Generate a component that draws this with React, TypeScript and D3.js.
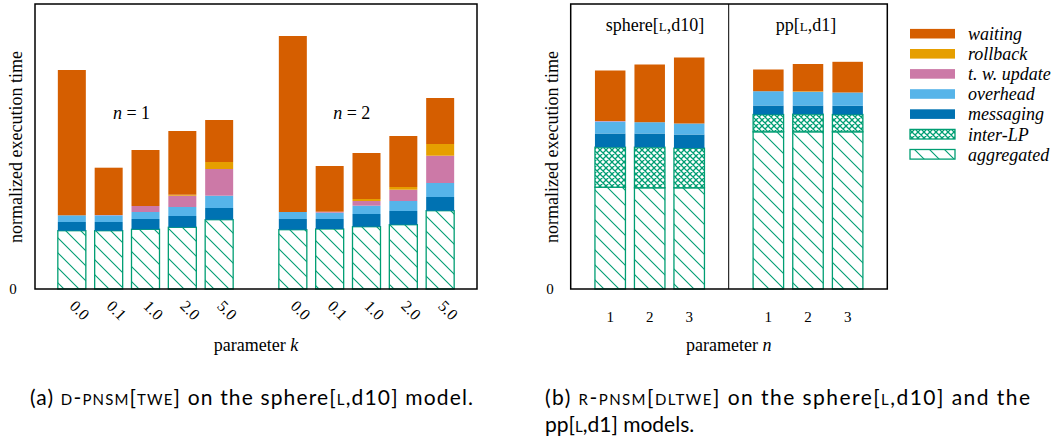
import React from 'react';
import { scaleLinear, stack } from 'd3';

const W = 1064;
const H = 444;

// stacking order, bottom to top
const seriesKeys = ['aggregated', 'inter-LP', 'messaging', 'overhead', 't. w. update', 'rollback', 'waiting'];
const seriesColors = ['url(#hatch)', 'url(#cross)', '#0072B2', '#56B4E9', '#CC79A7', '#E69F00', '#D55E00'];
// legend lists top to bottom
const legendKeys = ['waiting', 'rollback', 't. w. update', 'overhead', 'messaging', 'inter-LP', 'aggregated'];

// left panel: parameter k, two groups n = 1 and n = 2
const kLabels = ['0.0', '0.1', '1.0', '2.0', '5.0', '0.0', '0.1', '1.0', '2.0', '5.0'];
const kSlots = [1, 2, 3, 4, 5, 7, 8, 9, 10, 11];
const leftAggregated = [0.583, 0.583, 0.597, 0.617, 0.693, 0.593, 0.6, 0.623, 0.643, 0.783];
const leftInterLP = [0, 0, 0, 0, 0, 0, 0, 0, 0, 0];
const leftMessaging = [0.087, 0.087, 0.103, 0.113, 0.117, 0.107, 0.1, 0.127, 0.137, 0.137];
const leftOverhead = [0.067, 0.067, 0.07, 0.09, 0.123, 0.07, 0.063, 0.083, 0.1, 0.14];
const leftTwUpdate = [0, 0.003, 0.06, 0.113, 0.267, 0, 0.01, 0.047, 0.113, 0.273];
const leftRollback = [0, 0, 0, 0.01, 0.07, 0, 0, 0.02, 0.027, 0.117];
const leftWaiting = [1.453, 0.473, 0.56, 0.637, 0.42, 1.76, 0.457, 0.46, 0.51, 0.46];
const groupNotes = [{ text: '1', at: 2.62 }, { text: '2', at: 8.6 }];

// right panel: parameter n, two models
const nLabels = ['1', '2', '3', '1', '2', '3'];
const rightAggregated = [1.018, 1.012, 1.012, 1.572, 1.572, 1.572];
const rightInterLP = [0.4, 0.406, 0.396, 0.173, 0.176, 0.173];
const rightMessaging = [0.137, 0.137, 0.137, 0.09, 0.087, 0.087];
const rightOverhead = [0.12, 0.113, 0.11, 0.143, 0.137, 0.133];
const rightTwUpdate = [0.005, 0, 0, 0, 0, 0];
const rightRollback = [0, 0, 0, 0, 0.005, 0];
const rightWaiting = [0.505, 0.577, 0.66, 0.217, 0.273, 0.307];

const serif = 'Liberation Serif, serif';
const sans = 'Lato, sans-serif';

function rows(cols: number[][]) {
  return cols[0].map((_, i) => {
    const r: Record<string, number> = {};
    seriesKeys.forEach((k, j) => (r[k] = cols[j][i]));
    return r;
  });
}

const leftRows = rows([leftAggregated, leftInterLP, leftMessaging, leftOverhead, leftTwUpdate, leftRollback, leftWaiting]);
const rightRows = rows([rightAggregated, rightInterLP, rightMessaging, rightOverhead, rightTwUpdate, rightRollback, rightWaiting]);
const stacker = stack<Record<string, number>>().keys(seriesKeys);
const leftStack = stacker(leftRows);
const rightStack = stacker(rightRows);

const y = scaleLinear().domain([0, 2.85]).range([289, 4]);
const xLeft = scaleLinear().domain([0, 12]).range([35, 477]);
const xSphere = scaleLinear().domain([0, 4]).range([570.7, 728.7]);
const xPp = scaleLinear().domain([0, 4]).range([728.7, 887.3]);
const rightX = (i: number) => (i < 3 ? xSphere(i + 1) : xPp(i - 2));

const green = '#009E73';

function Bars({ data, xc, bw }: { data: any[]; xc: (i: number) => number; bw: number }) {
  return (
    <g>
      {data.map((s, j) =>
        s.map((d: any, i: number) => {
          const h = y(d[0]) - y(d[1]);
          if (h <= 0) return null;
          const patterned = j < 2;
          return (
            <rect
              key={`${j}-${i}`}
              x={xc(i) - bw / 2}
              y={y(d[1])}
              width={bw}
              height={h}
              fill={seriesColors[j]}
              stroke={patterned ? green : 'none'}
              strokeWidth={patterned ? 1.3 : 0}
            />
          );
        })
      )}
    </g>
  );
}

function Caps({ children }: { children: string }) {
  return <tspan style={{ fontVariant: 'small-caps' }}>{children}</tspan>;
}

export default function App() {
  return (
    <svg width={W} height={H} style={{ position: 'absolute', left: 0, top: 0, background: '#fff' }}>
      <defs>
        <pattern id="hatch" patternUnits="userSpaceOnUse" width={15} height={15}>
          <rect width={15} height={15} fill="#fff" />
          <path d="M-1,-1 L16,16 M-8,7 L1,16 M7,-8 L16,1" stroke={green} strokeWidth={1.1} />
        </pattern>
        <pattern id="cross" patternUnits="userSpaceOnUse" width={6} height={6}>
          <rect width={6} height={6} fill="#fff" />
          <path d="M0,0 L6,6 M6,0 L0,6 M-1,5 L1,7 M5,-1 L7,1 M-1,1 L1,-1 M5,7 L7,5" stroke={green} strokeWidth={1.3} />
        </pattern>
      </defs>

      {/* left panel */}
      <Bars data={leftStack} xc={(i) => xLeft(kSlots[i])} bw={28} />
      <rect x={35} y={4} width={442} height={285} fill="none" stroke="#000" strokeWidth={1.5} />
      <text x={13} y={y(0)} dy="0.35em" textAnchor="middle" fontFamily={serif} fontSize={15}>0</text>
      <text transform={`translate(16,147) rotate(-90)`} textAnchor="middle" dy="0.35em" fontFamily={serif} fontSize={18}>
        normalized execution time
      </text>
      {groupNotes.map((g) => (
        <text key={g.text} x={xLeft(g.at)} y={113} dy="0.35em" textAnchor="middle" fontFamily={serif} fontSize={18}>
          <tspan fontStyle="italic">n</tspan> = {g.text}
        </text>
      ))}
      {kLabels.map((l, i) => (
        <text
          key={i}
          transform={`translate(${xLeft(kSlots[i]) - 3},307) rotate(45)`}
          fontFamily={serif}
          fontSize={16}
        >
          {l}
        </text>
      ))}
      <text x={256} y={351} textAnchor="middle" fontFamily={serif} fontSize={18}>
        parameter <tspan fontStyle="italic">k</tspan>
      </text>

      {/* right panel */}
      <Bars data={rightStack} xc={rightX} bw={30.5} />
      <rect x={570.7} y={4} width={316.6} height={285} fill="none" stroke="#000" strokeWidth={1.5} />
      <line x1={728.7} x2={728.7} y1={4} y2={289} stroke="#000" strokeWidth={1} />
      <text x={550} y={y(0)} dy="0.35em" textAnchor="middle" fontFamily={serif} fontSize={15}>0</text>
      <text transform={`translate(552,147) rotate(-90)`} textAnchor="middle" dy="0.35em" fontFamily={serif} fontSize={18}>
        normalized execution time
      </text>
      <text x={655} y={25} dy="0.35em" textAnchor="middle" fontFamily={serif} fontSize={18}>
        sphere[<Caps>l</Caps>,d10]
      </text>
      <text x={806} y={25} dy="0.35em" textAnchor="middle" fontFamily={serif} fontSize={18}>
        pp[<Caps>l</Caps>,d1]
      </text>
      {nLabels.map((l, i) => (
        <text key={i} x={rightX(i)} y={317} dy="0.35em" textAnchor="middle" fontFamily={serif} fontSize={15}>
          {l}
        </text>
      ))}
      <text x={728.7} y={351} textAnchor="middle" fontFamily={serif} fontSize={18}>
        parameter <tspan fontStyle="italic">n</tspan>
      </text>

      {/* legend */}
      {legendKeys.map((k, i) => {
        const j = seriesKeys.indexOf(k);
        const cy = 33.7 + i * 20.1;
        const patterned = j < 2;
        return (
          <g key={k}>
            <rect
              x={910}
              y={cy - 4.8}
              width={45}
              height={9.6}
              fill={seriesColors[j]}
              stroke={patterned ? green : 'none'}
              strokeWidth={patterned ? 1.3 : 0}
            />
            <text x={968} y={cy} dy="0.35em" fontFamily={serif} fontStyle="italic" fontSize={18}>
              {k}
            </text>
          </g>
        );
      })}

      {/* captions */}
      <text x={30} y={398} dy="0.35em" fontFamily={sans} fontSize={21} textLength={443} lengthAdjust="spacing">
        (a) <Caps>d-pnsm</Caps>[<Caps>twe</Caps>] on the sphere[<Caps>l</Caps>,d10] model.
      </text>
      <text x={545} y={398} dy="0.35em" fontFamily={sans} fontSize={21} textLength={485} lengthAdjust="spacing">
        (b) <Caps>r-pnsm</Caps>[<Caps>dltwe</Caps>] on the sphere[<Caps>l</Caps>,d10] and the
      </text>
      <text x={545} y={425} dy="0.35em" fontFamily={sans} fontSize={21}>
        pp[<Caps>l</Caps>,d1] models.
      </text>
    </svg>
  );
}
